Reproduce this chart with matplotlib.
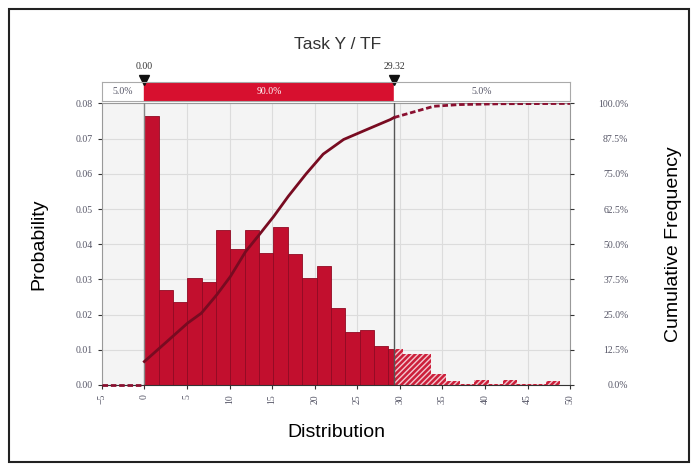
import numpy as np
import matplotlib
matplotlib.use("Agg")
import matplotlib.pyplot as plt
from matplotlib.patches import Rectangle

# histogram of total float, bins start at 0
bin_width = 1.685
probs = [0.0764, 0.0269, 0.0236, 0.0305, 0.0292, 0.0441, 0.0386, 0.0441,
         0.0374, 0.0448, 0.0371, 0.0303, 0.0338, 0.0219, 0.0150, 0.0157,
         0.0110, 0.0103, 0.0087, 0.0087, 0.0030, 0.0012, 0.0002, 0.0014,
         0.0002, 0.0014, 0.0002, 0.0002, 0.0010]

# cumulative frequency (%)
cum_x = [0.0, 2.5, 5.1, 6.7, 8.5, 10.1, 11.9, 13.5, 15.2, 16.9, 19.0, 21.0,
         23.4, 26.1, 28.9, 29.32]
cum_y = [8.3, 15.0, 22.0, 25.5, 32.0, 38.5, 47.4, 53.4, 59.9, 67.0, 75.0,
         82.0, 87.2, 90.7, 94.3, 95.0]
tail_x = [29.32, 31.3, 34.0, 37.0, 42.0, 50.0]
tail_y = [95.0, 96.7, 99.0, 99.6, 99.9, 100.0]
head_x = [-5.0, 0.0]
head_y = [0.0, 0.0]

low_q, high_q = 0.00, 29.32
band_labels = ["5.0%", "90.0%", "5.0%"]
xmin, xmax = -5, 50

red = "#c20f2e"
maroon = "#780b21"
tick_col = "#555566"

fig = plt.figure(figsize=(6.97, 4.66), dpi=100)
fig.patches.append(Rectangle((0.013, 0.008), 0.976, 0.972, transform=fig.transFigure,
                             fill=False, edgecolor="#222222", linewidth=1.5))

ax = fig.add_axes([0.146, 0.174, 0.672, 0.604])
ax.set_facecolor("#f4f4f4")
ax.set_xlim(xmin, xmax)
ax.set_ylim(0, 0.08)
ax.set_xticks(np.arange(-5, 51, 5))
ax.set_yticks(np.arange(0, 0.081, 0.01))
ax.set_yticklabels(["%.2f" % v for v in np.arange(0, 0.081, 0.01)])
ax.grid(True, color="#dcdcdc", linewidth=0.8)
ax.set_axisbelow(True)

lefts = np.arange(len(probs)) * bin_width
solid = ax.bar(lefts, probs, width=bin_width, align="edge", color=red,
               edgecolor="#900a23", linewidth=0.6, zorder=2)
hatched = ax.bar(lefts, probs, width=bin_width, align="edge", color="#cc1f3a",
                 edgecolor="#f3c6cf", linewidth=0, hatch="//////", zorder=2)
clip_in = Rectangle((xmin, 0), high_q - xmin, 1, transform=ax.transData)
clip_out = Rectangle((high_q, 0), xmax - high_q, 1, transform=ax.transData)
for b in solid:
    b.set_clip_path(clip_in)
for b in hatched:
    b.set_clip_path(clip_out)

ax.axvline(low_q, color="#888888", linewidth=1, zorder=3)
ax.axvline(high_q, color="#555555", linewidth=1, zorder=3)

for s in ax.spines.values():
    s.set_color("#999999")
ax.spines["bottom"].set_color("#333333")
ax.tick_params(axis="both", labelsize=7, colors="#333333", labelcolor=tick_col, length=3)
ax.tick_params(axis="x", labelrotation=90)
for lab in ax.get_xticklabels() + ax.get_yticklabels():
    lab.set_family("Liberation Serif")
ax.set_xlabel("Distribution", fontsize=14, family="Liberation Sans", labelpad=14)
ax.set_ylabel("Probability", fontsize=14, family="Liberation Sans", labelpad=20)

ax2 = ax.twinx()
ax2.set_ylim(0, 100)
ax2.set_yticks(np.arange(0, 100.1, 12.5))
ax2.set_yticklabels(["%.1f%%" % v for v in np.arange(0, 100.1, 12.5)])
ax2.plot(cum_x, cum_y, color=maroon, linewidth=2, zorder=4)
ax2.plot(tail_x, tail_y, color="#8a1030", linewidth=2, linestyle=(0, (2, 1)), zorder=4)
ax2.plot(head_x, head_y, color="#8a1030", linewidth=2, linestyle=(0, (2, 1)), zorder=4,
         clip_on=False)
for s in ax2.spines.values():
    s.set_visible(False)
ax2.tick_params(axis="y", labelsize=7, colors="#333333", labelcolor=tick_col, length=3, pad=39)
for lab in ax2.get_yticklabels():
    lab.set_family("Liberation Serif")
    lab.set_ha("right")
ax2.set_ylabel("Cumulative Frequency", fontsize=14, family="Liberation Sans", labelpad=26)

# percentile band above the plot
band = fig.add_axes([0.146, 0.783, 0.672, 0.041])
band.set_xlim(xmin, xmax)
band.set_ylim(0, 1)
band.axvspan(xmin, low_q, color="white")
band.axvspan(low_q, high_q, color="#d7102f")
band.axvspan(high_q, xmax, color="white")
band.set_xticks([])
band.set_yticks([])
for s in band.spines.values():
    s.set_color("#aaaaaa")
band.text((xmin + low_q) / 2, 0.5, band_labels[0], ha="center", va="center",
          fontsize=7, color=tick_col, family="Liberation Serif")
band.text((low_q + high_q) / 2, 0.5, band_labels[1], ha="center", va="center",
          fontsize=7, color="white", family="Liberation Serif")
band.text((high_q + xmax) / 2, 0.5, band_labels[2], ha="center", va="center",
          fontsize=7, color=tick_col, family="Liberation Serif")
band.plot([low_q, high_q], [1.08, 1.08], linestyle="none", marker="v", color="#111111",
          markersize=7, clip_on=False)
band.text(low_q, 1.6, "%.2f" % low_q, ha="center", va="bottom", fontsize=7,
          color="#333333", family="Liberation Serif")
band.text(high_q, 1.6, "%.2f" % high_q, ha="center", va="bottom", fontsize=7,
          color="#333333", family="Liberation Serif")

fig.text(0.485, 0.905, "Task Y / TF", ha="center", va="center", fontsize=12.5,
         color="#333333", family="Liberation Sans")

fig.savefig("out.png", dpi=100)
